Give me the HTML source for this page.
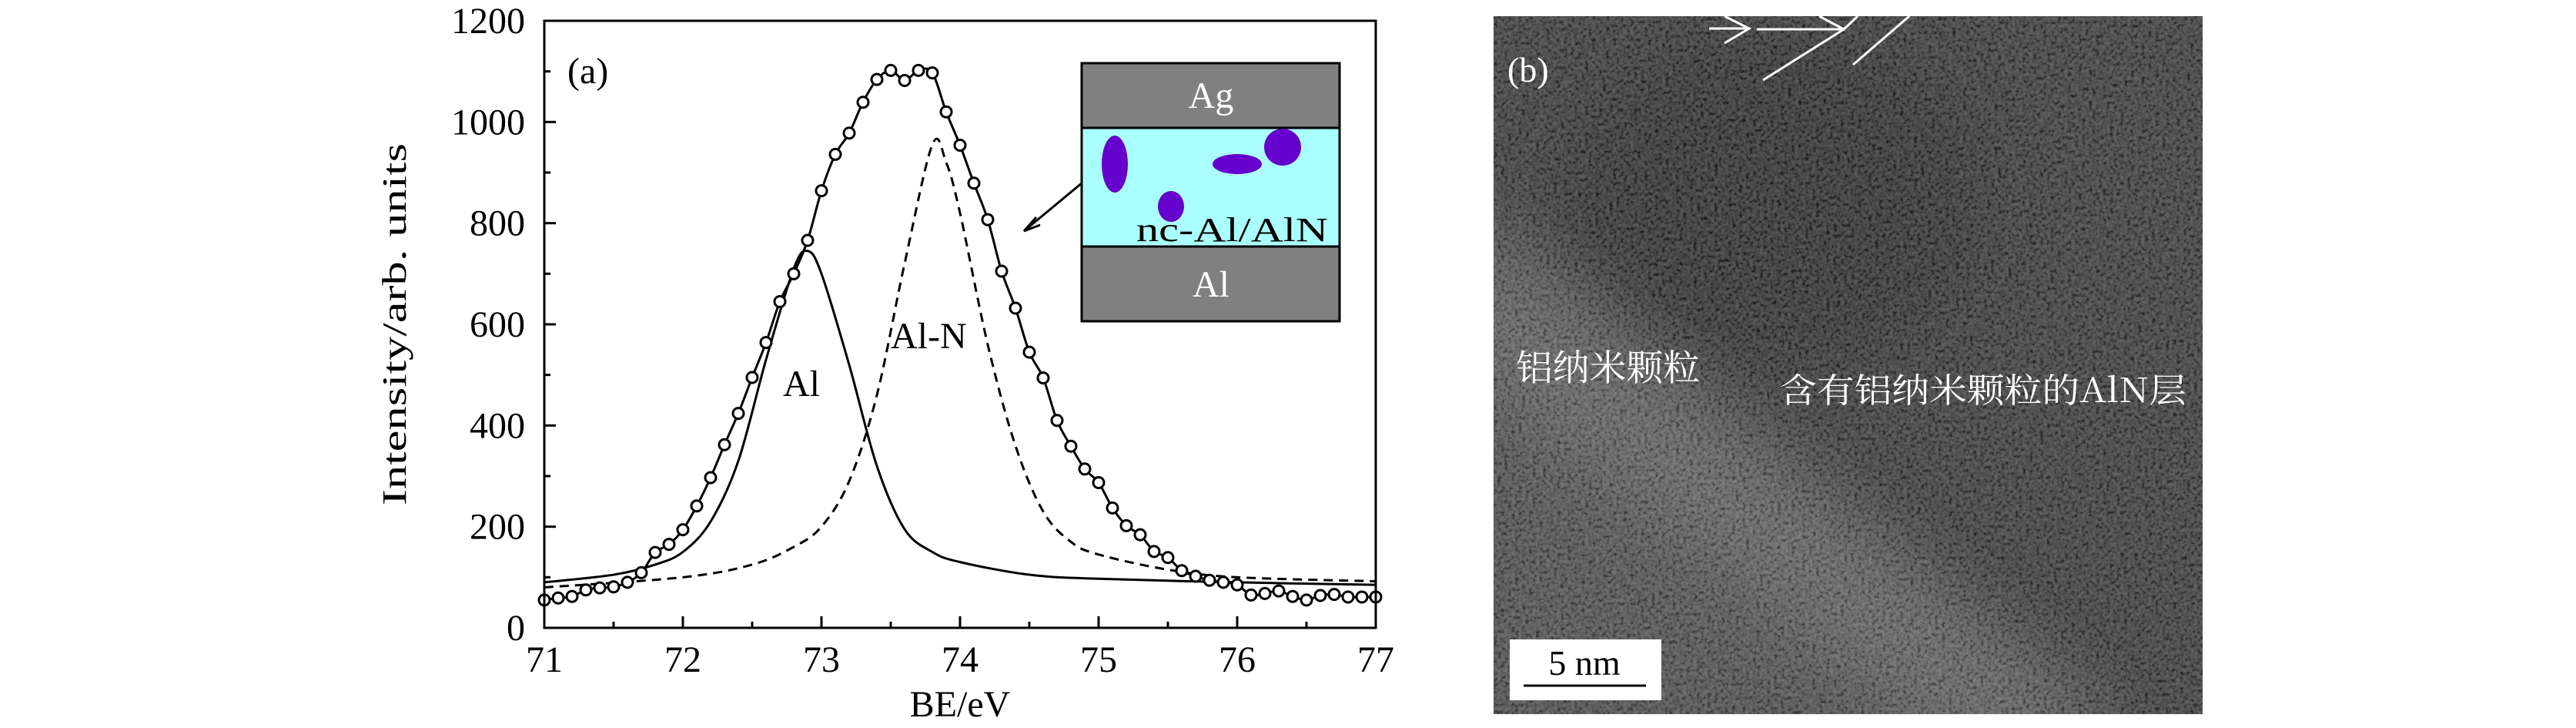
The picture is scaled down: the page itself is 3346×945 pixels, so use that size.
<!DOCTYPE html>
<html><head><meta charset="utf-8"><style>
html,body{margin:0;padding:0;background:#fff;width:3346px;height:945px;overflow:hidden}
svg{display:block}
text{font-family:"Liberation Serif",serif}
.cjk{font-family:"Noto Serif CJK SC","Liberation Serif",serif}
</style></head><body>
<svg id="fig" width="3346" height="945" viewBox="0 0 3346 945" xmlns="http://www.w3.org/2000/svg">
<defs>
<filter id="noise" x="0" y="0" width="100%" height="100%">
<feTurbulence type="fractalNoise" baseFrequency="0.22" numOctaves="2" seed="4"/>
<feColorMatrix type="matrix" values="2.2 0 0 0 -0.6  2.2 0 0 0 -0.6  2.2 0 0 0 -0.6  0 0 0 0 0.22"/>
</filter>
<filter id="blur" x="-20%" y="-20%" width="140%" height="140%"><feGaussianBlur stdDeviation="45"/></filter>
<clipPath id="clipB"><rect x="1940" y="21" width="921" height="906"/></clipPath>
</defs>
<g id="chartA"></g>
<g id="panelB" clip-path="url(#clipB)">
<rect x="1940" y="21" width="921" height="906" fill="#333"/>
<ellipse cx="2300" cy="260" rx="280" ry="220" fill="#262626" filter="url(#blur)"/>
<polygon points="1900,250 2750,960 1900,960" fill="#474747" filter="url(#blur)"/>
<polygon points="1900,300 1900,480 2520,960 2760,960" fill="#5a5a5a" filter="url(#blur)"/>
<rect x="1940" y="21" width="921" height="906" filter="url(#noise)"/>
<g stroke="#fff" stroke-width="3" fill="none">
<path d="M2220,37 L2272,37 M2240,21 L2272,37 L2240,56 M2282,38 L2395,38 M2363,21 L2395,38 L2413,21 M2290,104 L2395,38 M2407,84 L2480,21"/>
</g>
<text x="1958" y="106" font-size="46" fill="#fff">(b)</text>
<text class="cjk" x="1969" y="494" font-size="47" fill="#fff" textLength="239" lengthAdjust="spacingAndGlyphs">铝纳米颗粒</text>
<text class="cjk" x="2311" y="522" font-size="44" fill="#fff" textLength="529" lengthAdjust="spacingAndGlyphs">含有铝纳米颗粒的AlN层</text>
<rect x="1961" y="830" width="197" height="79" fill="#fff"/>
<text x="2058" y="876" font-size="46" text-anchor="middle" fill="#000">5 nm</text>
<line x1="1979" y1="890" x2="2138" y2="890" stroke="#000" stroke-width="3"/>
</g>
</svg>
<script>
const xMeas = [71.0,71.1,71.2,71.3,71.4,71.5,71.6,71.7,71.8,71.9,72.0,72.1,72.2,72.3,72.4,72.5,72.6,72.7,72.8,72.9,73.0,73.1,73.2,73.3,73.4,73.5,73.6,73.7,73.8,73.9,74.0,74.1,74.2,74.3,74.4,74.5,74.6,74.7,74.8,74.9,75.0,75.1,75.2,75.3,75.4,75.5,75.6,75.7,75.8,75.9,76.0,76.1,76.2,76.3,76.4,76.5,76.6,76.7,76.8,76.9,77.0];
const yMeas = [55,59,62,75,79,81,90,109,149,165,194,241,297,362,424,495,564,645,700,766,864,936,978,1039,1084,1102,1082,1102,1097,1020,954,879,807,705,632,545,494,410,359,314,287,237,202,184,151,139,113,102,94,90,85,65,68,73,62,55,64,66,61,61,61];
const xAl = [71,71.5,71.8,72.0,72.2,72.4,72.6,72.8,72.9,73.0,73.2,73.4,73.6,73.8,74.0,74.5,75,76,77];
const yAl = [90,105,125,150,210,330,530,710,745,700,520,320,195,150,130,105,97,90,85];
const xAlN = [71,72,72.5,72.8,73.0,73.2,73.4,73.6,73.8,73.9,74.0,74.2,74.4,74.6,74.8,75.0,75.5,76,77];
const yAlN = [80,100,125,160,200,290,460,720,955,920,820,560,360,230,170,145,115,100,92];
const xTicks = [71,72,73,74,75,76,77];
const yTicks = [0,200,400,600,800,1000,1200];

const NS = "http://www.w3.org/2000/svg";
const L = 707, R = 1787, T = 27, B = 815;
const xs = v => L + (v - 71) / 6 * (R - L);
const ys = v => B - v / 1200 * (B - T);
const g = document.getElementById('chartA');
function mk(tag, attrs, parent) {
  const e = document.createElementNS(NS, tag);
  for (const k in attrs) e.setAttribute(k, attrs[k]);
  (parent || g).appendChild(e);
  return e;
}
function smooth(xa, ya) {
  const p = xa.map((x, i) => [xs(x), ys(ya[i])]);
  let d = 'M' + p[0][0] + ',' + p[0][1];
  for (let i = 0; i < p.length - 1; i++) {
    const p0 = p[Math.max(0, i - 1)], p1 = p[i], p2 = p[i + 1], p3 = p[Math.min(p.length - 1, i + 2)];
    const c1x = p1[0] + (p2[0] - p0[0]) / 6, c1y = p1[1] + (p2[1] - p0[1]) / 6;
    const c2x = p2[0] - (p3[0] - p1[0]) / 6, c2y = p2[1] - (p3[1] - p1[1]) / 6;
    d += ` C${c1x},${c1y} ${c2x},${c2y} ${p2[0]},${p2[1]}`;
  }
  return d;
}
for (let v = 0; v <= 1200; v += 100) {
  const len = v % 200 === 0 ? 15 : 8;
  const t1 = mk('line', {x1: L, x2: L + len, y1: ys(v), y2: ys(v), stroke: '#000', 'stroke-width': 3});
  
  
}
for (let v = 71; v <= 77.001; v += 0.5) {
  const len = Math.abs(v - Math.round(v)) < 0.01 ? 15 : 8;
  const t2 = mk('line', {x1: xs(v), x2: xs(v), y1: B, y2: B - len, stroke: '#000', 'stroke-width': 3});
  
  
}
yTicks.forEach(v => {
  const t = mk('text', {x: 682, y: ys(v) + 16, 'font-size': 48, 'text-anchor': 'end'});
  t.textContent = v;
  
  
});
xTicks.forEach(v => {
  const t = mk('text', {x: xs(v), y: 872, 'font-size': 48, 'text-anchor': 'middle'});
  t.textContent = v;
  
  
});
const al = mk('path', {d: smooth(xAl, yAl), fill: 'none', stroke: '#000', 'stroke-width': 3});


const aln = mk('path', {d: smooth(xAlN, yAlN), fill: 'none', stroke: '#000', 'stroke-width': 3, 'stroke-dasharray': '12,8'});


const env = mk('path', {d: smooth(xMeas, yMeas), fill: 'none', stroke: '#000', 'stroke-width': 3});


xMeas.forEach((x, i) => {
  const c = mk('circle', {cx: xs(x), cy: ys(yMeas[i]), r: 7, fill: '#fff', stroke: '#000', 'stroke-width': 3});
  
  
});
const fr = mk('rect', {x: L, y: T, width: R - L, height: B - T, fill: 'none', stroke: '#000', 'stroke-width': 3});


const xl = mk('text', {x: (L + R) / 2, y: 930, 'font-size': 48, 'text-anchor': 'middle'});
xl.textContent = 'BE/eV';


const yl = mk('text', {x: 0, y: 0, 'font-size': 44, 'text-anchor': 'middle', textLength: 470, lengthAdjust: 'spacingAndGlyphs', transform: 'translate(527,421) rotate(-90)'});
yl.textContent = 'Intensity/arb. units';


const pa = mk('text', {x: 737, y: 108, 'font-size': 48});
pa.textContent = '(a)';


const la = mk('text', {x: 1017, y: 514, 'font-size': 48});
la.textContent = 'Al';


const ln = mk('text', {x: 1157, y: 452, 'font-size': 48});
ln.textContent = 'Al-N';


const ins = mk('g', {});


const arr = mk('path', {d: 'M1412,232 L1330,300 M1330,300 L1346,282 M1330,300 L1351,292', stroke: '#000', 'stroke-width': 3, fill: 'none'}, ins);


const ag = mk('rect', {x: 1405, y: 82, width: 335, height: 84, fill: '#808080', stroke: '#000', 'stroke-width': 3}, ins);


const mid = mk('rect', {x: 1405, y: 166, width: 335, height: 154, fill: '#aaffff', stroke: '#000', 'stroke-width': 3}, ins);


const alb = mk('rect', {x: 1405, y: 320, width: 335, height: 97, fill: '#808080', stroke: '#000', 'stroke-width': 3}, ins);


[[1448,213,17,37],[1607,213,32,13],[1666,191,24,24],[1521,268,17,20]].forEach(e => {
  const el = mk('ellipse', {cx: e[0], cy: e[1], rx: e[2], ry: e[3], fill: '#6600cc'}, ins);
  
  
});
const t1 = mk('text', {x: 1573, y: 140, 'font-size': 48, fill: '#fff', 'text-anchor': 'middle'}, ins);
t1.textContent = 'Ag';


const t2 = mk('text', {x: 1476, y: 313, 'font-size': 44, fill: '#000', textLength: 249, lengthAdjust: 'spacingAndGlyphs'}, ins);
t2.textContent = 'nc-Al/AlN';


const t3 = mk('text', {x: 1573, y: 385, 'font-size': 48, fill: '#fff', 'text-anchor': 'middle'}, ins);
t3.textContent = 'Al';


</script>
</body></html>
